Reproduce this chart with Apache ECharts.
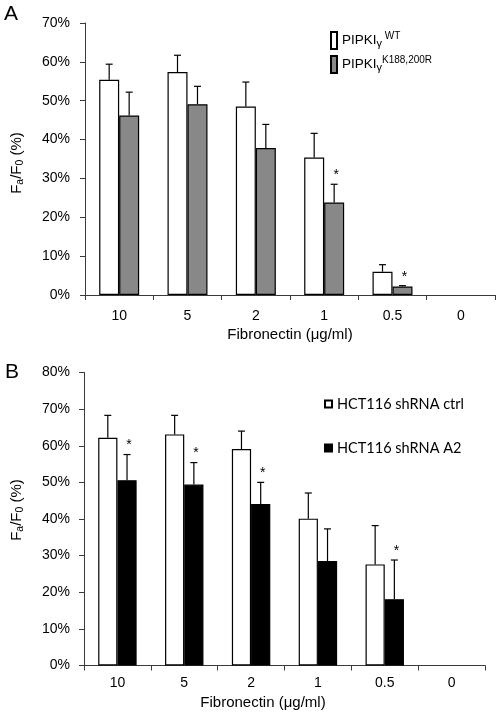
<!DOCTYPE html>
<html>
<head>
<meta charset="utf-8">
<script src="https://cdn.jsdelivr.net/npm/echarts@6/dist/echarts.min.js"></script>
<style>html,body{margin:0;padding:0;background:#fff}#c{width:499px;height:713px}</style>
</head>
<body>
<div id="c"></div>
<script>
// ---- Data ----
const categories = ['10', '5', '2', '1', '0.5', '0'];

// Panel A
const aNames = ['PIPKIγ WT', 'PIPKIγ K188,200R'];
const aWT = [55.4, 57.4, 48.5, 35.4, 6.0, null];
const aWTErr = [4.0, 4.3, 6.3, 6.2, 1.8, null];
const aMut = [46.2, 49.1, 37.8, 23.8, 2.2, null];
const aMutErr = [6.0, 4.6, 6.1, 4.7, 0.2, null];
const aMutSig = [0, 0, 0, 1, 1, 0];
const aTicks = { min: 0, max: 70, interval: 10 };

// Panel B
const bNames = ['HCT116 shRNA ctrl', 'HCT116 shRNA A2'];
const bCtrl = [62.2, 63.1, 59.1, 40.1, 27.6, null];
const bCtrlErr = [6.1, 5.2, 4.9, 7.0, 10.6, null];
const bA2 = [50.6, 49.4, 44.1, 28.5, 18.1, null];
const bA2Err = [7.0, 6.0, 5.9, 8.8, 10.7, null];
const bA2Sig = [1, 1, 1, 0, 1, 0];
const bTicks = { min: 0, max: 80, interval: 10 };

const xTitle = 'Fibronectin (μg/ml)';

// ---- Chart ----
const FONT = '"Liberation Sans", Arial, sans-serif';
const chart = echarts.init(document.getElementById('c'), null, { renderer: 'canvas' });

function errData(vals, errs, sigs, side) {
  const out = [];
  vals.forEach((v, i) => {
    if (v == null) return;
    out.push([i, v, errs[i], sigs ? sigs[i] : 0, side]);
  });
  return out;
}

function errSeries(idx, vals, errs, sigs, side, gapPct) {
  return {
    type: 'custom',
    xAxisIndex: idx, yAxisIndex: idx,
    z: 5,
    silent: true,
    encode: { x: 0, y: 1 },
    data: errData(vals, errs, sigs, side),
    renderItem: function (params, api) {
      const i = api.value(0), v = api.value(1), e = api.value(2), sig = api.value(3), s = api.value(4);
      const layout = api.barLayout({ barGap: '0%', barCategoryGap: gapPct, count: 2 });
      const base = api.coord([i, v]);
      const top = api.coord([i, v + e]);
      const cx = base[0] + layout[s].offsetCenter;
      const children = [
        { type: 'line', shape: { x1: cx, y1: base[1], x2: cx, y2: top[1] }, style: { stroke: '#000', lineWidth: 1.2 } },
        { type: 'line', shape: { x1: cx - 3.5, y1: top[1], x2: cx + 3.5, y2: top[1] }, style: { stroke: '#000', lineWidth: 1.2 } }
      ];
      if (sig) {
        children.push({ type: 'text', x: cx + 2, y: top[1] - 2,
          style: { text: '*', fontSize: 14, fontFamily: FONT, fill: '#000', align: 'center', verticalAlign: 'bottom' } });
      }
      return { type: 'group', children: children };
    }
  };
}

const axisCommon = {
  axisLine: { show: true, lineStyle: { color: '#3a3a3a', width: 1 } },
  axisTick: { show: true, inside: false, length: 5, lineStyle: { color: '#3a3a3a' } },
  splitLine: { show: false }
};

const yRich = {
  sub: { fontSize: 10.5, fontFamily: FONT, lineHeight: 12, verticalAlign: 'bottom', fill: '#000' }
};

const option = {
  animation: false,
  backgroundColor: '#fff',
  textStyle: { fontFamily: FONT },
  grid: [
    { left: 85, top: 23, width: 410, height: 272 },
    { left: 84, top: 372.5, width: 401, height: 293 }
  ],
  xAxis: [
    Object.assign({ type: 'category', gridIndex: 0, data: categories,
      axisLabel: { fontSize: 14, color: '#000', margin: 14, fontFamily: FONT } }, axisCommon),
    Object.assign({ type: 'category', gridIndex: 1, data: categories,
      axisLabel: { fontSize: 14, color: '#000', margin: 11, fontFamily: FONT } }, axisCommon)
  ],
  yAxis: [
    Object.assign({ type: 'value', gridIndex: 0, min: aTicks.min, max: aTicks.max, interval: aTicks.interval,
      axisLabel: { fontSize: 14, color: '#000', margin: 15, formatter: '{value}%', fontFamily: FONT } }, axisCommon),
    Object.assign({ type: 'value', gridIndex: 1, min: bTicks.min, max: bTicks.max, interval: bTicks.interval,
      axisLabel: { fontSize: 14, color: '#000', margin: 14, formatter: '{value}%', fontFamily: FONT } }, axisCommon)
  ],
  legend: [
    {
      data: aNames, orient: 'vertical', left: 330, top: 31, padding: 0,
      icon: 'rect', itemWidth: 6, itemHeight: 17, itemGap: 5,
      selectedMode: false,
      textStyle: {
        fontSize: 13, color: '#000', fontFamily: FONT,
        rich: {
          m: { fontSize: 13.5, fontFamily: FONT, color: '#000', lineHeight: 18, verticalAlign: 'middle' },
          g: { fontSize: 11, fontFamily: FONT, color: '#000', lineHeight: 16.5, verticalAlign: 'bottom' },
          s: { fontSize: 10, fontFamily: FONT, color: '#000', lineHeight: 15, verticalAlign: 'top' }
        }
      },
      formatter: function (name) {
        const parts = name.split(' ');
        const sup = parts[1] === 'WT' ? ' WT' : parts[1];
        return '{m|PIPKI}{g|γ}{s|' + sup + '}';
      }
    },
    {
      data: bNames, orient: 'vertical', left: 324, top: 396, padding: 0,
      icon: 'rect', itemWidth: 7, itemHeight: 7, itemGap: 28,
      selectedMode: false,
      textStyle: { fontSize: 14.5, color: '#000', fontFamily: 'Lato, "Open Sans", sans-serif', lineHeight: 16 }
    }
  ],
  graphic: [
    { type: 'text', x: 11, y: 14, style: { text: 'A', fontSize: 21, fontFamily: FONT, fill: '#000', align: 'center', verticalAlign: 'middle' } },
    { type: 'text', x: 12, y: 372, style: { text: 'B', fontSize: 21, fontFamily: FONT, fill: '#000', align: 'center', verticalAlign: 'middle' } },
    { type: 'text', x: 290, y: 335, style: { text: xTitle, fontSize: 15, fontFamily: FONT, fill: '#000', align: 'center', verticalAlign: 'middle' } },
    { type: 'text', x: 263, y: 703, style: { text: xTitle, fontSize: 15, fontFamily: FONT, fill: '#000', align: 'center', verticalAlign: 'middle' } },
    { type: 'text', x: 17, y: 163, rotation: Math.PI / 2,
      style: { text: 'F{sub|a}/F{sub|0} (%)', fontSize: 15, lineHeight: 18, fontFamily: FONT, fill: '#000', align: 'center', verticalAlign: 'middle', rich: yRich } },
    { type: 'text', x: 17, y: 510, rotation: Math.PI / 2,
      style: { text: 'F{sub|a}/F{sub|0} (%)', fontSize: 15, lineHeight: 18, fontFamily: FONT, fill: '#000', align: 'center', verticalAlign: 'middle', rich: yRich } }
  ],
  series: [
    { type: 'bar', name: aNames[0], xAxisIndex: 0, yAxisIndex: 0, data: aWT,
      barGap: '0%', barCategoryGap: '41.5%',
      itemStyle: { color: '#ffffff', borderColor: '#000', borderWidth: 1.2 } },
    { type: 'bar', name: aNames[1], xAxisIndex: 0, yAxisIndex: 0, data: aMut,
      barGap: '0%', barCategoryGap: '41.5%',
      itemStyle: { color: '#888888', borderColor: '#000', borderWidth: 1.2 } },
    errSeries(0, aWT, aWTErr, null, 0, '41.5%'),
    errSeries(0, aMut, aMutErr, aMutSig, 1, '41.5%'),
    { type: 'bar', name: bNames[0], xAxisIndex: 1, yAxisIndex: 1, data: bCtrl,
      barGap: '0%', barCategoryGap: '42.5%',
      itemStyle: { color: '#ffffff', borderColor: '#000', borderWidth: 1.2 } },
    { type: 'bar', name: bNames[1], xAxisIndex: 1, yAxisIndex: 1, data: bA2,
      barGap: '0%', barCategoryGap: '42.5%',
      itemStyle: { color: '#000000', borderColor: '#000', borderWidth: 1.2 } },
    errSeries(1, bCtrl, bCtrlErr, null, 0, '42.5%'),
    errSeries(1, bA2, bA2Err, bA2Sig, 1, '42.5%')
  ]
};
chart.setOption(option);
</script>
</body>
</html>
